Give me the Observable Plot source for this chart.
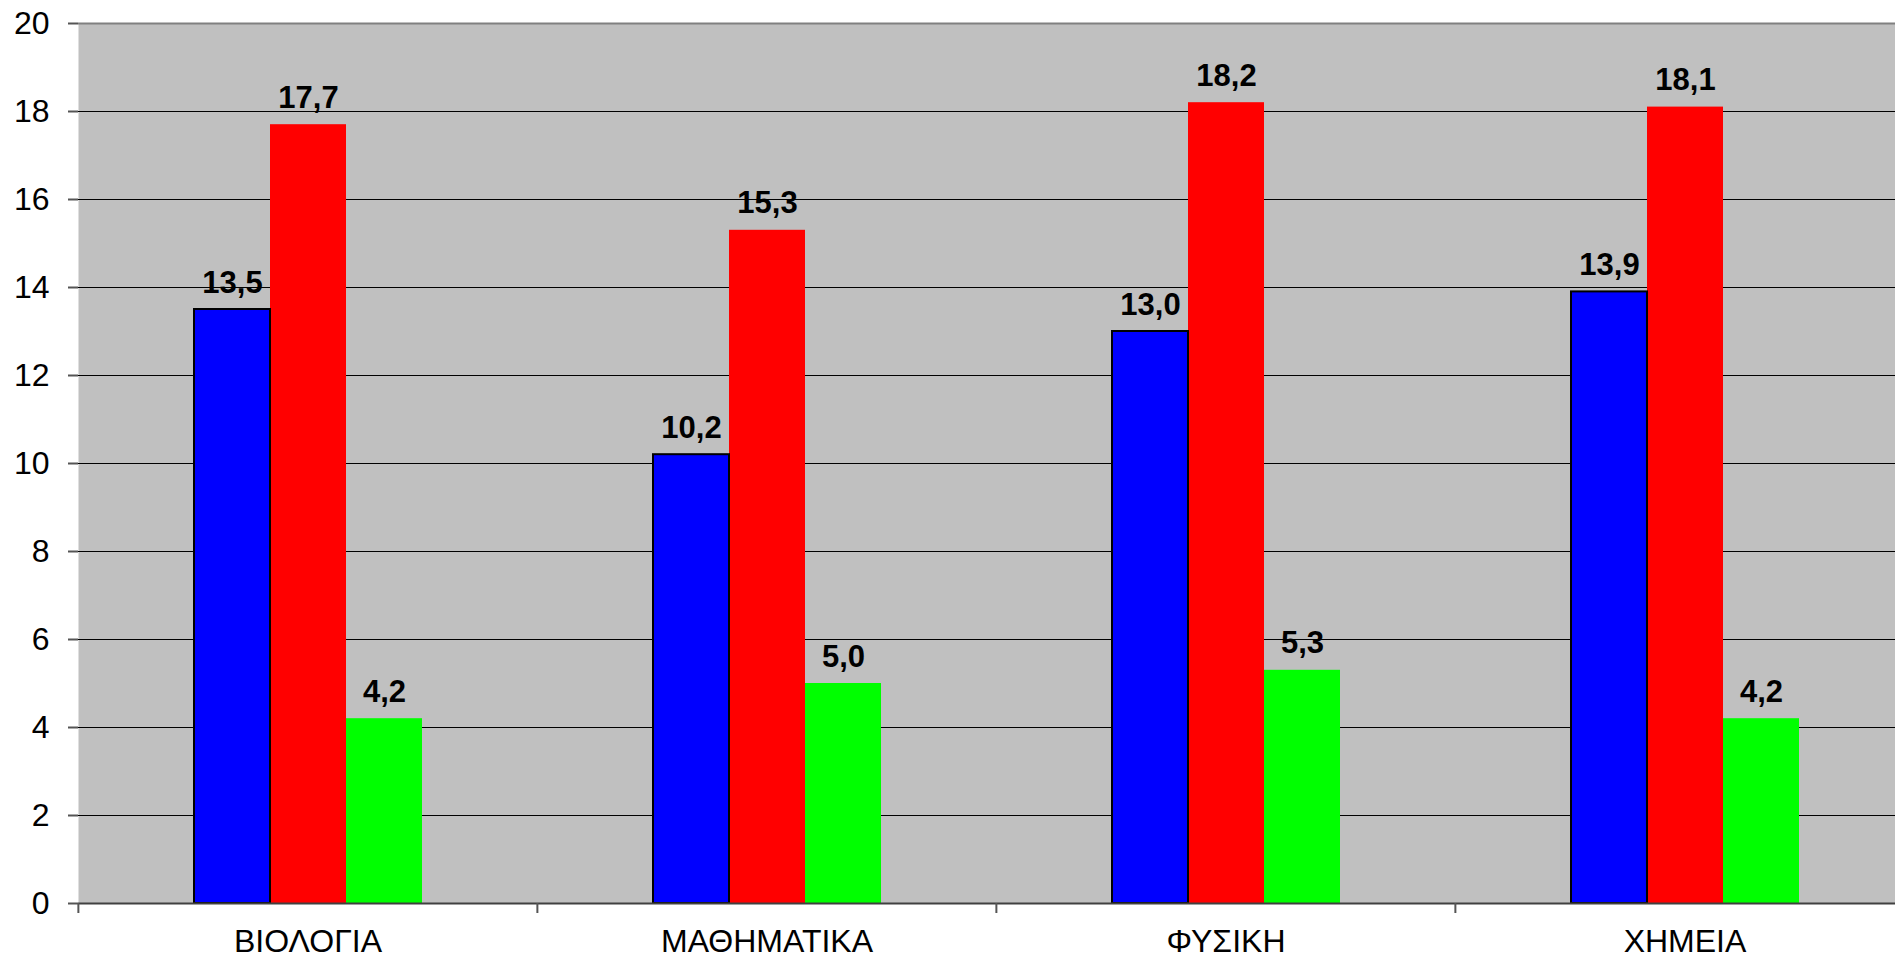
<!DOCTYPE html>
<html>
<head>
<meta charset="utf-8">
<script src="https://cdn.jsdelivr.net/npm/d3@7"></script>
<script src="https://cdn.jsdelivr.net/npm/@observablehq/plot@0.6"></script>
<style>
  html, body { margin: 0; padding: 0; background: white; overflow: hidden; }
  #chart svg { overflow: hidden; display: block; }
</style>
</head>
<body>
<div id="chart"></div>
<script>
const categories = ["ΒΙΟΛΟΓΙΑ", "ΜΑΘΗΜΑΤΙΚΑ", "ΦΥΣΙΚΗ", "ΧΗΜΕΙΑ"];
const series = ["Σειρά 1", "Σειρά 2", "Σειρά 3"];
const series1 = [13.5, 10.2, 13.0, 13.9];
const series2 = [17.7, 15.3, 18.2, 18.1];
const series3 = [4.2, 5.0, 5.3, 4.2];
const seriesColors = ["#0000ff", "#ff0000", "#00ff00"];
const yTicks = [0, 2, 4, 6, 8, 10, 12, 14, 16, 18, 20];
const gridTicks = [2, 4, 6, 8, 10, 12, 14, 16, 18];

const values = [series1, series2, series3];
const data = [];
categories.forEach((c, i) => {
  series.forEach((s, j) => data.push({subject: c, series: s, value: values[j][i]}));
});

const W = 1895, H = 958;
const left = 77, right = 1914;
const halfBand = (right - left) / categories.length / 2;
const fmt = v => d3.format(".1f")(v).replace(".", ",");
const font = "'Liberation Sans', Arial, sans-serif";

const chart = Plot.plot({
  width: W,
  height: H,
  marginLeft: left,
  marginRight: 0,
  marginTop: 23,
  marginBottom: 55,
  style: {fontFamily: font, fontSize: "32px", background: "white", color: "black", overflow: "hidden"},
  fx: {domain: categories, range: [left, right], paddingInner: 0, paddingOuter: 0},
  x: {domain: series, paddingInner: 0, paddingOuter: 1.5, axis: null},
  y: {domain: [0, 20]},
  color: {domain: series, range: seriesColors},
  marks: [
    Plot.frame({fill: "#c0c0c0", stroke: "none", facet: "super"}),
    Plot.gridY(gridTicks, {stroke: "black", strokeOpacity: 1, strokeWidth: 1}),
    Plot.ruleY([20], {stroke: "#808080", strokeWidth: 2}),
    Plot.barY(data, {fx: "subject", x: "series", y: "value", fill: "series"}),
    Plot.barY(data.filter(d => d.series === series[0]), {fx: "subject", x: "series", y: "value", fill: "none", stroke: "black", strokeWidth: 2}),
    Plot.ruleY([0], {stroke: "#404040", strokeWidth: 2}),
    Plot.axisY({ticks: yTicks, tickSize: 10, tickPadding: 19, fontSize: 32, stroke: "#555", strokeWidth: 2, line: true, label: null, tickFormat: d => String(d)}),
    Plot.axisFx({anchor: "bottom", tickSize: 0, tickPadding: 26, fontSize: 32, label: null}),
    Plot.axisFx({anchor: "bottom", tickSize: 10, tickFormat: () => "", dx: -halfBand, stroke: "#555", strokeWidth: 2, label: null}),
    Plot.text(data, {fx: "subject", x: "series", y: "value", text: d => fmt(d.value), lineAnchor: "bottom", dy: -17, fontSize: 31, fontWeight: "bold", fill: "black"})
  ]
});
document.getElementById("chart").appendChild(chart);
</script>
</body>
</html>
